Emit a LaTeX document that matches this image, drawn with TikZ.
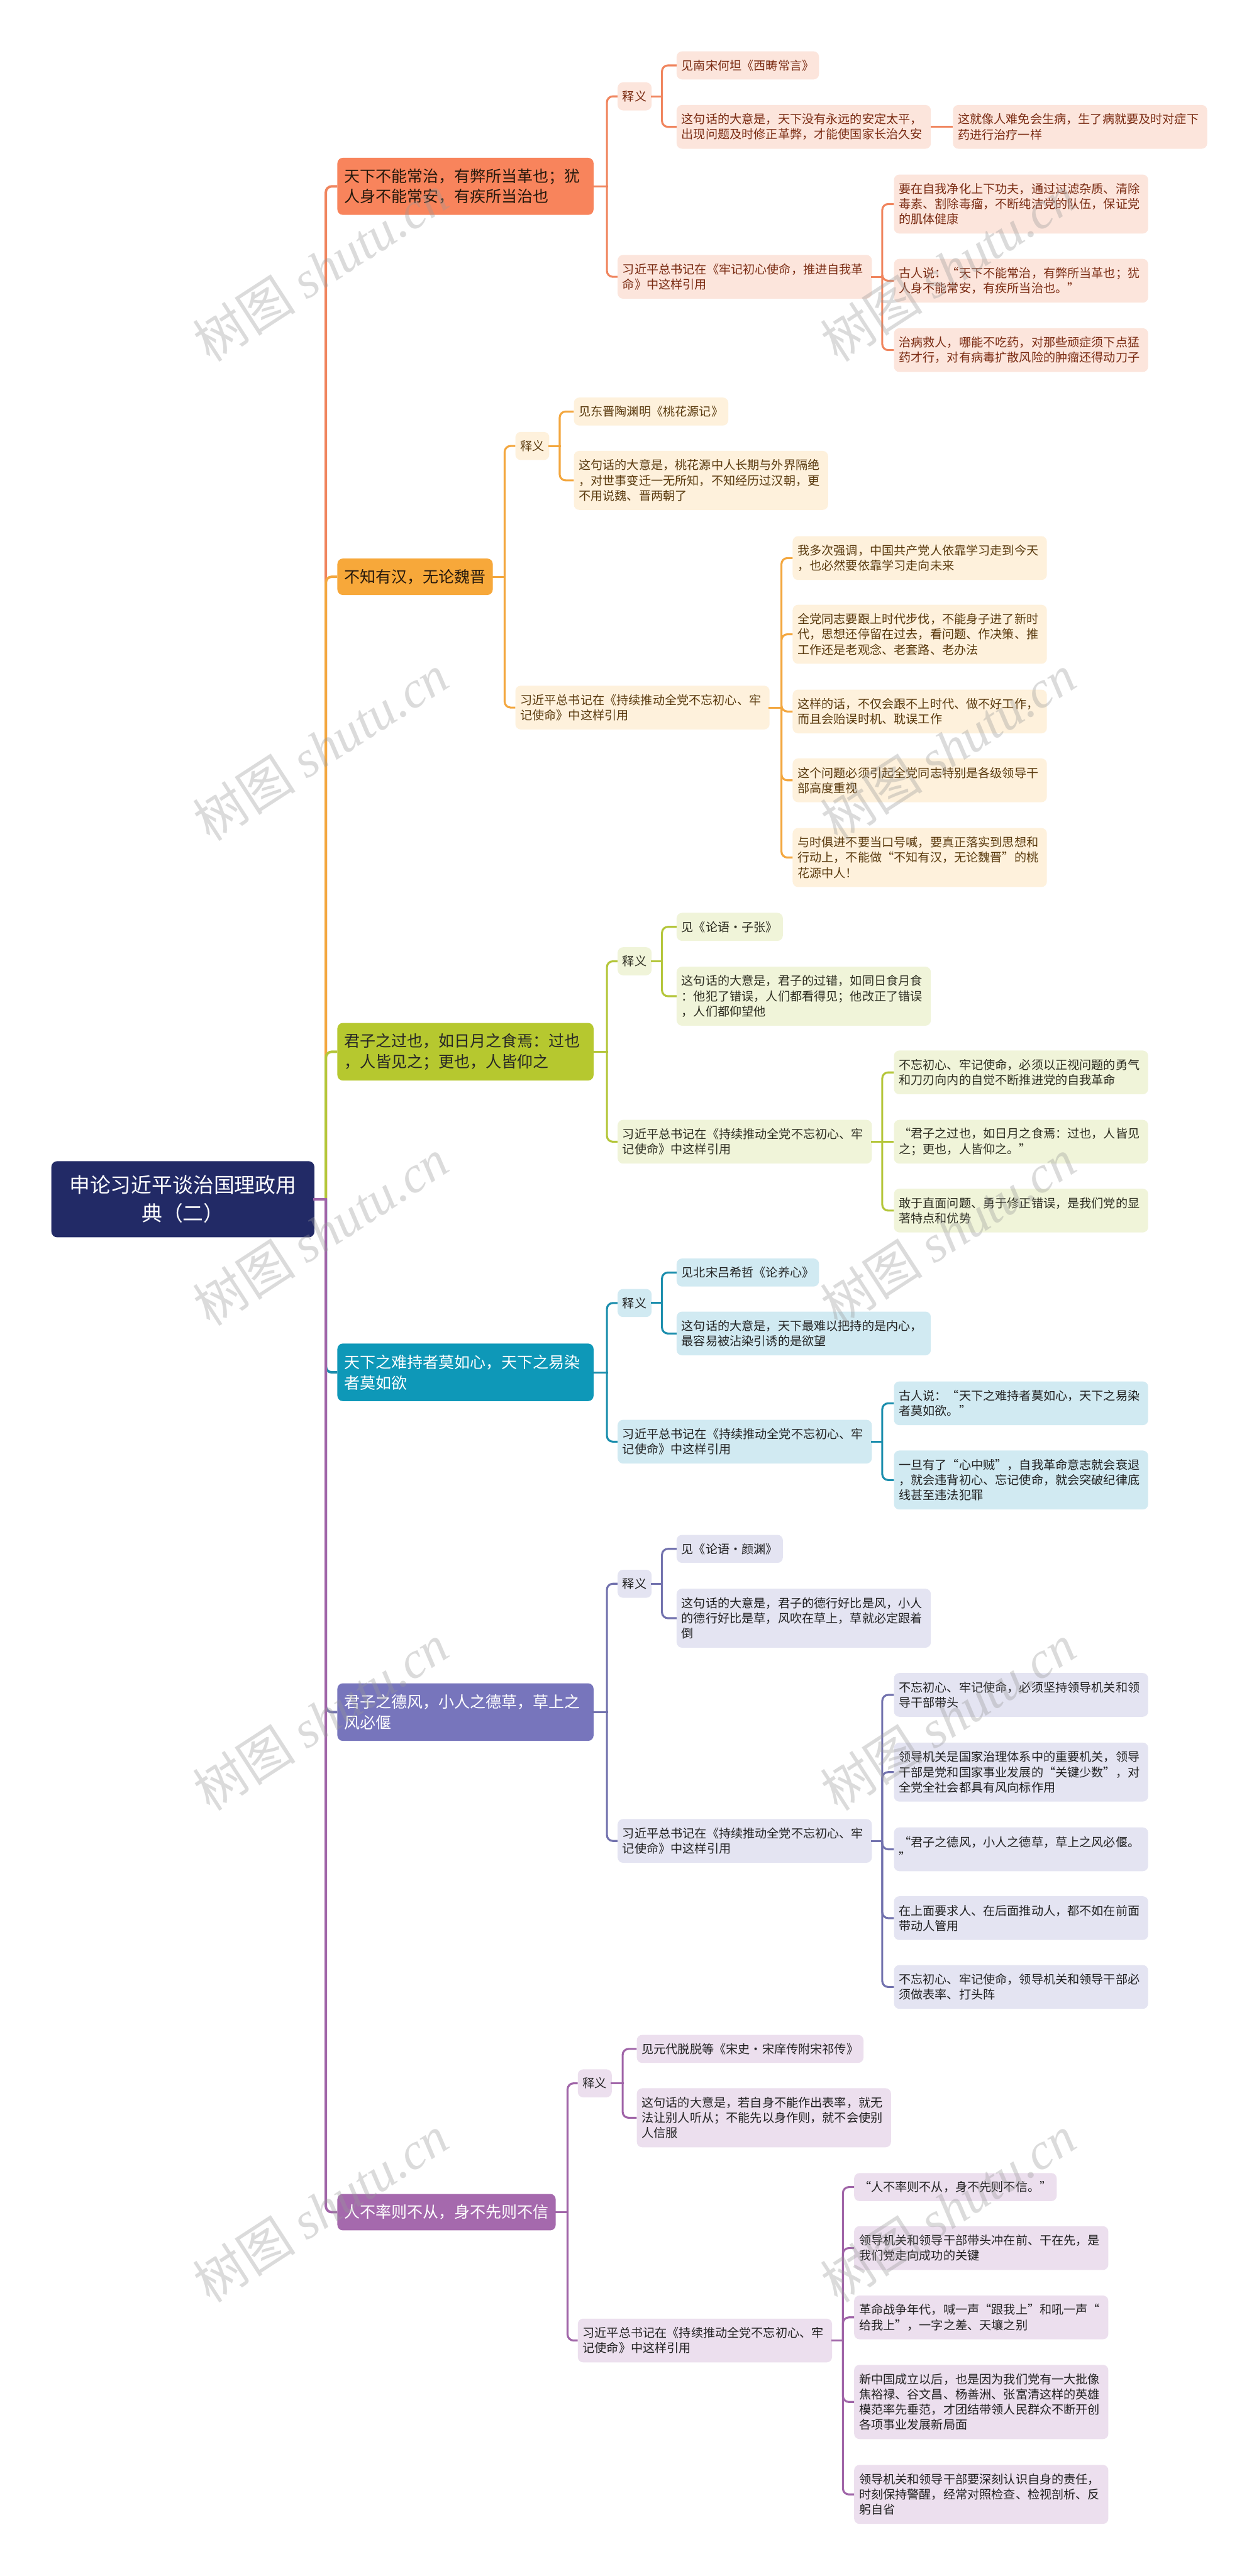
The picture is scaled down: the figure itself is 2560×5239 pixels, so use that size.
\documentclass[tikz,border=0pt]{standalone}
\usepackage{fontspec}
\setmainfont{Noto Sans CJK SC}
\newfontfamily\wmserif{Liberation Serif}
\usetikzlibrary{calc}
\definecolor{rootc}{HTML}{222A66}
\definecolor{bA}{HTML}{F8845C}\definecolor{lA}{HTML}{F0855E}\definecolor{pA}{HTML}{FCE5DC}\definecolor{tA}{HTML}{7A2B12}
\definecolor{bB}{HTML}{F7A83A}\definecolor{lB}{HTML}{F3A73F}\definecolor{pB}{HTML}{FEF1DC}\definecolor{tB}{HTML}{5A3A0E}
\definecolor{bC}{HTML}{B6C82F}\definecolor{lC}{HTML}{B4C63A}\definecolor{pC}{HTML}{F0F4D9}\definecolor{tC}{HTML}{2E2E22}
\definecolor{bD}{HTML}{0E98B8}\definecolor{lD}{HTML}{1B8EAD}\definecolor{pD}{HTML}{D1EAF2}\definecolor{tD}{HTML}{222222}
\definecolor{bE}{HTML}{7775BC}\definecolor{lE}{HTML}{7272AE}\definecolor{pE}{HTML}{E4E4F2}\definecolor{tE}{HTML}{222222}
\definecolor{bF}{HTML}{A569AD}\definecolor{lF}{HTML}{A065A8}\definecolor{pF}{HTML}{ECDFEE}\definecolor{tF}{HTML}{222222}
\newcommand\mmlink[4]{%
  \draw[#1,line cap=rect] (#2.east) -- ++(#4,0);
  \draw[#1,rounded corners=12pt] ($(#2.east)+(#4,0)$) |- (#3.west);}
\begin{document}
\begin{tikzpicture}[x=1pt,y=-1pt,
  rootbox/.style={fill=rootc,text=white,rounded corners=12pt,minimum width=535pt,minimum height=155pt,
    text width=500pt,inner xsep=17.5pt,align=center,font=\fontsize{42pt}{58pt}\selectfont},
  brbox/.style={anchor=west,rounded corners=11pt,inner xsep=14pt,inner ysep=0pt,align=left,
    font=\fontsize{32pt}{42pt}\selectfont},
  brwide/.style={text width=493pt},
  subbox/.style={anchor=west,rounded corners=11pt,inner xsep=10pt,inner ysep=0pt,align=left,
    font=\fontsize{24.5pt}{31pt}\selectfont},
  sA/.style={subbox,fill=pA,text=tA},
  sB/.style={subbox,fill=pB,text=tB},
  sC/.style={subbox,fill=pC,text=tC},
  sD/.style={subbox,fill=pD,text=tD},
  sE/.style={subbox,fill=pE,text=tE},
  sF/.style={subbox,fill=pF,text=tF},
  wide/.style={text width=497pt},
  hA/.style={minimum height=57pt},
  hB/.style={minimum height=89pt},
  hC/.style={minimum height=120pt},
  hD/.style={minimum height=151pt},
  trunk/.style={line width=5pt},
  twig/.style={line width=4pt},
  wm/.style={rotate=33,text=black!40,opacity=0.35,font=\fontsize{105pt}{110pt}\selectfont}
]
\fill[white] (0,0) rectangle (2560,5239);
\useasboundingbox (0,0) rectangle (2560,5239);

% root
\node[rootbox] (root) at (372,2439) {申论习近平谈治国理政用\\典（二）};

% ===== section 1 =====
\node[brbox,brwide,fill=bA,text=black!80!brown,minimum height=116pt] (b1) at (686,379) {天下不能常治，有弊所当革也；犹\\人身不能常安，有疾所当治也};
\node[sA,hA] (s1a) at (1256,196) {释义};
\node[sA,wide,hB] (s1b) at (1256,563) {习近平总书记在《牢记初心使命，推进自我革\\命》中这样引用};
\node[sA,hA] (s1a1) at (1376,133) {见南宋何坦《西畴常言》};
\node[sA,wide,hB] (s1a2) at (1376,258) {这句话的大意是，天下没有永远的安定太平，\\出现问题及时修正革弊，才能使国家长治久安};
\node[sA,wide,hB] (s1a2x) at (1938,258) {这就像人难免会生病，生了病就要及时对症下\\药进行治疗一样};
\node[sA,wide,hC] (s1b1) at (1818,415) {要在自我净化上下功夫，通过过滤杂质、清除\\毒素、割除毒瘤，不断纯洁党的队伍，保证党\\的肌体健康};
\node[sA,wide,hB] (s1b2) at (1818,571) {古人说：“天下不能常治，有弊所当革也；犹\\人身不能常安，有疾所当治也。”};
\node[sA,wide,hB] (s1b3) at (1818,712) {治病救人，哪能不吃药，对那些顽症须下点猛\\药才行，对有病毒扩散风险的肿瘤还得动刀子};

% ===== section 2 =====
\node[brbox,fill=bB,text=black!80!brown,minimum height=74pt] (b2) at (686,1173) {不知有汉，无论魏晋};
\node[sB,hA] (s2a) at (1048,907) {释义};
\node[sB,wide,hB] (s2b) at (1048,1439) {习近平总书记在《持续推动全党不忘初心、牢\\记使命》中这样引用};
\node[sB,hA] (s2a1) at (1167,837) {见东晋陶渊明《桃花源记》};
\node[sB,wide,hC] (s2a2) at (1167,977) {这句话的大意是，桃花源中人长期与外界隔绝\\，对世事变迁一无所知，不知经历过汉朝，更\\不用说魏、晋两朝了};
\node[sB,wide,hB] (s2b1) at (1612,1135) {我多次强调，中国共产党人依靠学习走到今天\\，也必然要依靠学习走向未来};
\node[sB,wide,hC] (s2b2) at (1612,1290) {全党同志要跟上时代步伐，不能身子进了新时\\代，思想还停留在过去，看问题、作决策、推\\工作还是老观念、老套路、老办法};
\node[sB,wide,hB] (s2b3) at (1612,1447) {这样的话，不仅会跟不上时代、做不好工作，\\而且会贻误时机、耽误工作};
\node[sB,wide,hB] (s2b4) at (1612,1587) {这个问题必须引起全党同志特别是各级领导干\\部高度重视};
\node[sB,wide,hC] (s2b5) at (1612,1744) {与时俱进不要当口号喊，要真正落实到思想和\\行动上，不能做“不知有汉，无论魏晋”的桃\\花源中人！};

% ===== section 3 =====
\node[brbox,brwide,fill=bC,text=black!85,minimum height=117pt] (b3) at (686,2139) {君子之过也，如日月之食焉：过也\\，人皆见之；更也，人皆仰之};
\node[sC,hA] (s3a) at (1256,1955) {释义};
\node[sC,wide,hB] (s3b) at (1256,2322) {习近平总书记在《持续推动全党不忘初心、牢\\记使命》中这样引用};
\node[sC,hA] (s3a1) at (1376,1885) {见《论语·子张》};
\node[sC,wide,hC] (s3a2) at (1376,2026) {这句话的大意是，君子的过错，如同日食月食\\：他犯了错误，人们都看得见；他改正了错误\\，人们都仰望他};
\node[sC,wide,hB] (s3b1) at (1818,2181) {不忘初心、牢记使命，必须以正视问题的勇气\\和刀刃向内的自觉不断推进党的自我革命};
\node[sC,wide,hB] (s3b2) at (1818,2322) {“君子之过也，如日月之食焉：过也，人皆见\\之；更也，人皆仰之。”};
\node[sC,wide,hB] (s3b3) at (1818,2462) {敢于直面问题、勇于修正错误，是我们党的显\\著特点和优势};

% ===== section 4 =====
\node[brbox,brwide,fill=bD,text=white,minimum height=117pt] (b4) at (686,2791) {天下之难持者莫如心，天下之易染\\者莫如欲};
\node[sD,hA] (s4a) at (1256,2650) {释义};
\node[sD,wide,hB] (s4b) at (1256,2932) {习近平总书记在《持续推动全党不忘初心、牢\\记使命》中这样引用};
\node[sD,hA] (s4a1) at (1376,2588) {见北宋吕希哲《论养心》};
\node[sD,wide,hB] (s4a2) at (1376,2712) {这句话的大意是，天下最难以把持的是内心，\\最容易被沾染引诱的是欲望};
\node[sD,wide,hB] (s4b1) at (1818,2854) {古人说：“天下之难持者莫如心，天下之易染\\者莫如欲。”};
\node[sD,wide,hC] (s4b2) at (1818,3010) {一旦有了“心中贼”，自我革命意志就会衰退\\，就会违背初心、忘记使命，就会突破纪律底\\线甚至违法犯罪};

% ===== section 5 =====
\node[brbox,brwide,fill=bE,text=white,minimum height=117pt] (b5) at (686,3482) {君子之德风，小人之德草，草上之\\风必偃};
\node[sE,hA] (s5a) at (1256,3221) {释义};
\node[sE,wide,hB] (s5b) at (1256,3744) {习近平总书记在《持续推动全党不忘初心、牢\\记使命》中这样引用};
\node[sE,hA] (s5a1) at (1376,3150) {见《论语·颜渊》};
\node[sE,wide,hC] (s5a2) at (1376,3291) {这句话的大意是，君子的德行好比是风，小人\\的德行好比是草，风吹在草上，草就必定跟着\\倒};
\node[sE,wide,hB] (s5b1) at (1818,3447) {不忘初心、牢记使命，必须坚持领导机关和领\\导干部带头};
\node[sE,wide,hC] (s5b2) at (1818,3604) {领导机关是国家治理体系中的重要机关，领导\\干部是党和国家事业发展的“关键少数”，对\\全党全社会都具有风向标作用};
\node[sE,wide,hB] (s5b3) at (1818,3761) {“君子之德风，小人之德草，草上之风必偃。\\”};
\node[sE,wide,hB] (s5b4) at (1818,3901) {在上面要求人、在后面推动人，都不如在前面\\带动人管用};
\node[sE,wide,hB] (s5b5) at (1818,4041) {不忘初心、牢记使命，领导机关和领导干部必\\须做表率、打头阵};

% ===== section 6 =====
\node[brbox,fill=bF,text=white,minimum height=74pt] (b6) at (686,4499) {人不率则不从，身不先则不信};
\node[sF,hA] (s6a) at (1175,4237) {释义};
\node[sF,wide,hB] (s6b) at (1175,4760) {习近平总书记在《持续推动全党不忘初心、牢\\记使命》中这样引用};
\node[sF,hA] (s6a1) at (1295,4167) {见元代脱脱等《宋史·宋庠传附宋祁传》};
\node[sF,wide,hC] (s6a2) at (1295,4307) {这句话的大意是，若自身不能作出表率，就无\\法让别人听从；不能先以身作则，就不会使别\\人信服};
\node[sF,hA] (s6b1) at (1737,4448) {“人不率则不从，身不先则不信。”};
\node[sF,wide,hB] (s6b2) at (1737,4572) {领导机关和领导干部带头冲在前、干在先，是\\我们党走向成功的关键};
\node[sF,wide,hB] (s6b3) at (1737,4713) {革命战争年代，喊一声“跟我上”和吼一声“\\给我上”，一字之差、天壤之别};
\node[sF,wide,hD] (s6b4) at (1737,4885) {新中国成立以后，也是因为我们党有一大批像\\焦裕禄、谷文昌、杨善洲、张富清这样的英雄\\模范率先垂范，才团结带领人民群众不断开创\\各项事业发展新局面};
\node[sF,wide,hC] (s6b5) at (1737,5073) {领导机关和领导干部要深刻认识自身的责任，\\时刻保持警醒，经常对照检查、检视剖析、反\\躬自省};

% ===== connectors =====
\mmlink{lA,trunk}{root}{b1}{23}
\mmlink{lB,trunk}{root}{b2}{23}
\mmlink{lC,trunk}{root}{b3}{23}
\mmlink{lD,trunk}{root}{b4}{23}
\mmlink{lE,trunk}{root}{b5}{23}
\mmlink{lF,trunk}{root}{b6}{23}
% section 1
\mmlink{lA,twig}{b1}{s1a}{27}
\mmlink{lA,twig}{b1}{s1b}{27}
\mmlink{lA,twig}{s1a}{s1a1}{21}
\mmlink{lA,twig}{s1a}{s1a2}{21}
\draw[lA,twig] (s1a2.east) -- (s1a2x.west);
\mmlink{lA,twig}{s1b}{s1b1}{21}
\mmlink{lA,twig}{s1b}{s1b2}{21}
\mmlink{lA,twig}{s1b}{s1b3}{21}
% section 2
\mmlink{lB,twig}{b2}{s2a}{24}
\mmlink{lB,twig}{b2}{s2b}{24}
\mmlink{lB,twig}{s2a}{s2a1}{21}
\mmlink{lB,twig}{s2a}{s2a2}{21}
\mmlink{lB,twig}{s2b}{s2b1}{24}
\mmlink{lB,twig}{s2b}{s2b2}{24}
\mmlink{lB,twig}{s2b}{s2b3}{24}
\mmlink{lB,twig}{s2b}{s2b4}{24}
\mmlink{lB,twig}{s2b}{s2b5}{24}
% section 3
\mmlink{lC,twig}{b3}{s3a}{27}
\mmlink{lC,twig}{b3}{s3b}{27}
\mmlink{lC,twig}{s3a}{s3a1}{21}
\mmlink{lC,twig}{s3a}{s3a2}{21}
\mmlink{lC,twig}{s3b}{s3b1}{21}
\draw[lC,twig] (s3b.east) -- (s3b2.west);
\mmlink{lC,twig}{s3b}{s3b3}{21}
% section 4
\mmlink{lD,twig}{b4}{s4a}{27}
\mmlink{lD,twig}{b4}{s4b}{27}
\mmlink{lD,twig}{s4a}{s4a1}{21}
\mmlink{lD,twig}{s4a}{s4a2}{21}
\mmlink{lD,twig}{s4b}{s4b1}{21}
\mmlink{lD,twig}{s4b}{s4b2}{21}
% section 5
\mmlink{lE,twig}{b5}{s5a}{27}
\mmlink{lE,twig}{b5}{s5b}{27}
\mmlink{lE,twig}{s5a}{s5a1}{21}
\mmlink{lE,twig}{s5a}{s5a2}{21}
\mmlink{lE,twig}{s5b}{s5b1}{21}
\mmlink{lE,twig}{s5b}{s5b2}{21}
\mmlink{lE,twig}{s5b}{s5b3}{21}
\mmlink{lE,twig}{s5b}{s5b4}{21}
\mmlink{lE,twig}{s5b}{s5b5}{21}
% section 6
\mmlink{lF,twig}{b6}{s6a}{24}
\mmlink{lF,twig}{b6}{s6b}{24}
\mmlink{lF,twig}{s6a}{s6a1}{22}
\mmlink{lF,twig}{s6a}{s6a2}{22}
\mmlink{lF,twig}{s6b}{s6b1}{22}
\mmlink{lF,twig}{s6b}{s6b2}{22}
\mmlink{lF,twig}{s6b}{s6b3}{22}
\mmlink{lF,twig}{s6b}{s6b4}{22}
\mmlink{lF,twig}{s6b}{s6b5}{22}

% ===== watermarks =====
\foreach \wy [count=\i] in {545,1520,2506,3493,4492}{
  \node[wm] (wmL\i) at (652,\wy) {树图 {\wmserif\itshape shutu.cn}};
  \node[wm] (wmR\i) at (1928,\wy) {树图 {\wmserif\itshape shutu.cn}};
}
\end{tikzpicture}
\end{document}
